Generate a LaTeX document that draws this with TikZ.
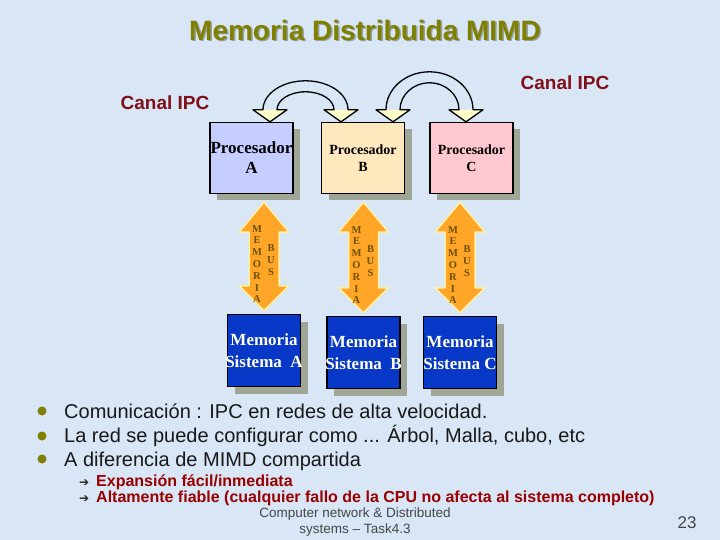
\documentclass[tikz,border=0pt]{standalone}
\usepackage{fontspec}
\setmainfont{Liberation Serif}
\setsansfont{Liberation Sans}
\newfontfamily\symfont{DejaVu Sans}
\usepackage{tikz}
\usetikzlibrary{calc,shadows}

\definecolor{slidebg}{RGB}{216,230,246}
\definecolor{titleolive}{RGB}{128,128,0}
\definecolor{titleshade}{RGB}{150,160,160}
\definecolor{ipcred}{RGB}{128,16,24}
\definecolor{procAfill}{RGB}{198,206,255}
\definecolor{procBfill}{RGB}{255,232,190}
\definecolor{procCfill}{RGB}{255,200,208}
\definecolor{memblue}{RGB}{8,56,200}
\definecolor{memtext}{RGB}{255,255,230}
\definecolor{shadowgray}{RGB}{160,166,150}
\definecolor{busorange}{RGB}{255,166,40}
\definecolor{busedge}{RGB}{255,240,170}
\definecolor{busletter}{RGB}{110,80,0}
\definecolor{headfill}{RGB}{255,255,204}
\definecolor{subred}{RGB}{153,0,0}
\definecolor{footgray}{RGB}{70,70,70}

\tikzset{
  titletext/.style={inner sep=0pt, font=\sffamily\bfseries\fontsize{28}{30}\selectfont, text=titleolive},
  titleshadow/.style={titletext, text=titleshade},
  ipclabel/.style={inner sep=0pt, font=\sffamily\bfseries\fontsize{19}{21}\selectfont, text=ipcred},
  proc/.style={draw=black, line width=1.4pt, minimum width=83pt, minimum height=71pt, inner sep=0pt,
    drop shadow={shadow xshift=7pt, shadow yshift=-7pt, fill=shadowgray, opacity=1}},
  proclabel/.style={align=center, inner sep=0pt, font=\bfseries\fontsize{14}{17}\selectfont, text=black},
  memory/.style={proc, fill=memblue, minimum width=73pt, minimum height=72pt},
  memlabel/.style={align=center, inner sep=0pt, font=\bfseries\fontsize{17}{22}\selectfont, text=memtext},
  bus/.style={fill=busorange, draw=busedge, line width=1.5pt, line join=round},
  busword/.style={align=center, inner sep=0pt, font=\bfseries\fontsize{10.5}{11.8}\selectfont, text=busletter},
  ipcline/.style={draw=black, line width=1.3pt, line join=round},
  ipchead/.style={fill=headfill},
  bulletdot/.style={circle, fill=titleolive, inner sep=0pt, minimum size=9pt},
  bullettext/.style={anchor=base west, inner sep=0pt, font=\sffamily\fontsize{20}{22}\selectfont, text=black!90},
  subtext/.style={anchor=base west, inner sep=0pt, font=\sffamily\bfseries\fontsize{16}{18}\selectfont, text=subred},
  subarrow/.style={anchor=base west, inner sep=0pt, font=\symfont\fontsize{12}{13}\selectfont, text=black!85},
  footer/.style={inner sep=0pt, font=\sffamily\fontsize{13.5}{15}\selectfont, text=footgray}
}

% orange memory bus between a processor and its memory
\newcommand\busarrow[2]{%
  \path[bus] let \p1=(#1.south), \p2=(#2.north) in
    (\x2,{\y1-8pt}) -- ({\x2+25pt},{\y1-38pt}) -- ({\x2+15pt},{\y1-38pt})
    -- ({\x2+15pt},{\y2+28pt}) -- ({\x2+25pt},{\y2+28pt}) -- (\x2,{\y2+3pt})
    -- ({\x2-25pt},{\y2+28pt}) -- ({\x2-15pt},{\y2+28pt})
    -- ({\x2-15pt},{\y1-38pt}) -- ({\x2-25pt},{\y1-38pt}) -- cycle;
  \path let \p1=(#1.south), \p2=(#2.north) in
    ({\x2-7pt},{0.5*(\y1+\y2)-10pt}) node[busword] {M\\E\\M\\O\\R\\I\\A}
    ({\x2+7pt},{0.5*(\y1+\y2)-6pt}) node[busword] {B\\U\\S};
}

% hollow curved IPC channel: left tip, right tip, outer and inner height
\newcommand\ipcarc[4]{%
  \fill[ipchead] ([shift={(-17,-12)}]#1) -- (#1) -- ([shift={(17,-12)}]#1) -- cycle;
  \fill[ipchead] ([shift={(-17,-12)}]#2) -- (#2) -- ([shift={(17,-12)}]#2) -- cycle;
  \draw[ipcline] ([shift={(-7,-12)}]#1)
    .. controls ([shift={(-7,{-12-0.552*#3})}]#1) and ($(#1)!0.224!(#2)+(-3.9,{-12-#3})$)
    .. ($(#1)!0.5!(#2)+(0,{-12-#3})$)
    .. controls ($(#1)!0.776!(#2)+(3.9,{-12-#3})$) and ([shift={(7,{-12-0.552*#3})}]#2)
    .. ([shift={(7,-12)}]#2) -- ([shift={(17,-12)}]#2) -- (#2) -- ([shift={(-17,-12)}]#2)
    -- ([shift={(-7,-12)}]#2)
    .. controls ([shift={(-7,{-12-0.552*#4})}]#2) and ($(#1)!0.776!(#2)+(-3.9,{-12-#4})$)
    .. ($(#1)!0.5!(#2)+(0,{-12-#4})$)
    .. controls ($(#1)!0.224!(#2)+(3.9,{-12-#4})$) and ([shift={(7,{-12-0.552*#4})}]#1)
    .. ([shift={(7,-12)}]#1) -- ([shift={(17,-12)}]#1) -- (#1) -- ([shift={(-17,-12)}]#1) -- cycle;
}

\begin{document}
\begin{tikzpicture}[x=1pt,y=-1pt]
\fill[slidebg] (0,0) rectangle (720,540);
\useasboundingbox (0,0) rectangle (720,540);

% title
\node[titleshadow] at (366.5,31.5) {Memoria Distribuida MIMD};
\node[titletext] (title) at (365,30) {Memoria Distribuida MIMD};

\node[ipclabel] (ipcleft) at (165,103) {Canal IPC};
\node[ipclabel] (ipcright) at (565,83) {Canal IPC};

% processors
\node[proc, fill=procAfill, label={[proclabel, font=\bfseries\fontsize{17}{20}\selectfont]center:Procesador\\A}] (procA) at (251.5,158) {};
\node[proc, fill=procBfill, label={[proclabel]center:Procesador\\B}] (procB) at (363,158) {};
\node[proc, fill=procCfill, label={[proclabel]center:Procesador\\C}] (procC) at (471.5,158) {};

% memories
\node[memory, label={[memlabel]center:Memoria\\Sistema\ \ A}] (memA) at (264,350.5) {};
\node[memory, label={[memlabel]center:Memoria\\Sistema\ \ B}] (memB) at (363.5,352.5) {};
\node[memory, label={[memlabel]center:Memoria\\Sistema\ C}] (memC) at (460,352.5) {};

\busarrow{procA}{memA}
\busarrow{procB}{memB}
\busarrow{procC}{memC}

% IPC channels
\coordinate (ipc1l) at ([xshift=18.5pt]procA.north);
\coordinate (ipc1r) at ([xshift=-22pt]procB.north);
\coordinate (ipc2l) at ([xshift=30pt]procB.north);
\coordinate (ipc2r) at ([xshift=-5.5pt]procC.north);
\ipcarc{ipc1l}{ipc1r}{29}{18}
\ipcarc{ipc2l}{ipc2r}{38}{27}

% bullets
\foreach \y/\n in {411/1,436/2,459/3}
  \node[bulletdot] (dot\n) at (42,\y) {};
\node[bullettext] (line1) at (64,418) {Comunicación : IPC en redes de alta velocidad.};
\node[bullettext] (line2) at (64,442) {La red se puede configurar como ... Árbol, Malla, cubo, etc};
\node[bullettext] (line3) at (64,466) {A diferencia de MIMD compartida};

\node[subarrow] (arr1) at (79,486) {➔};
\node[subarrow] (arr2) at (79,502) {➔};
\node[subtext] (sub1) at (96,486) {Expansión fácil/inmediata};
\node[subtext] (sub2) at (96,502) {Altamente fiable (cualquier fallo de la CPU no afecta al sistema completo)};

% footer
\node[footer] (foot1) at (355,514) {Computer network \& Distributed};
\node[footer] (foot2) at (355,530) {systems – Task4.3};
\node[footer, font=\sffamily\fontsize{17}{19}\selectfont] (page) at (687,523) {23};
\end{tikzpicture}
\end{document}
